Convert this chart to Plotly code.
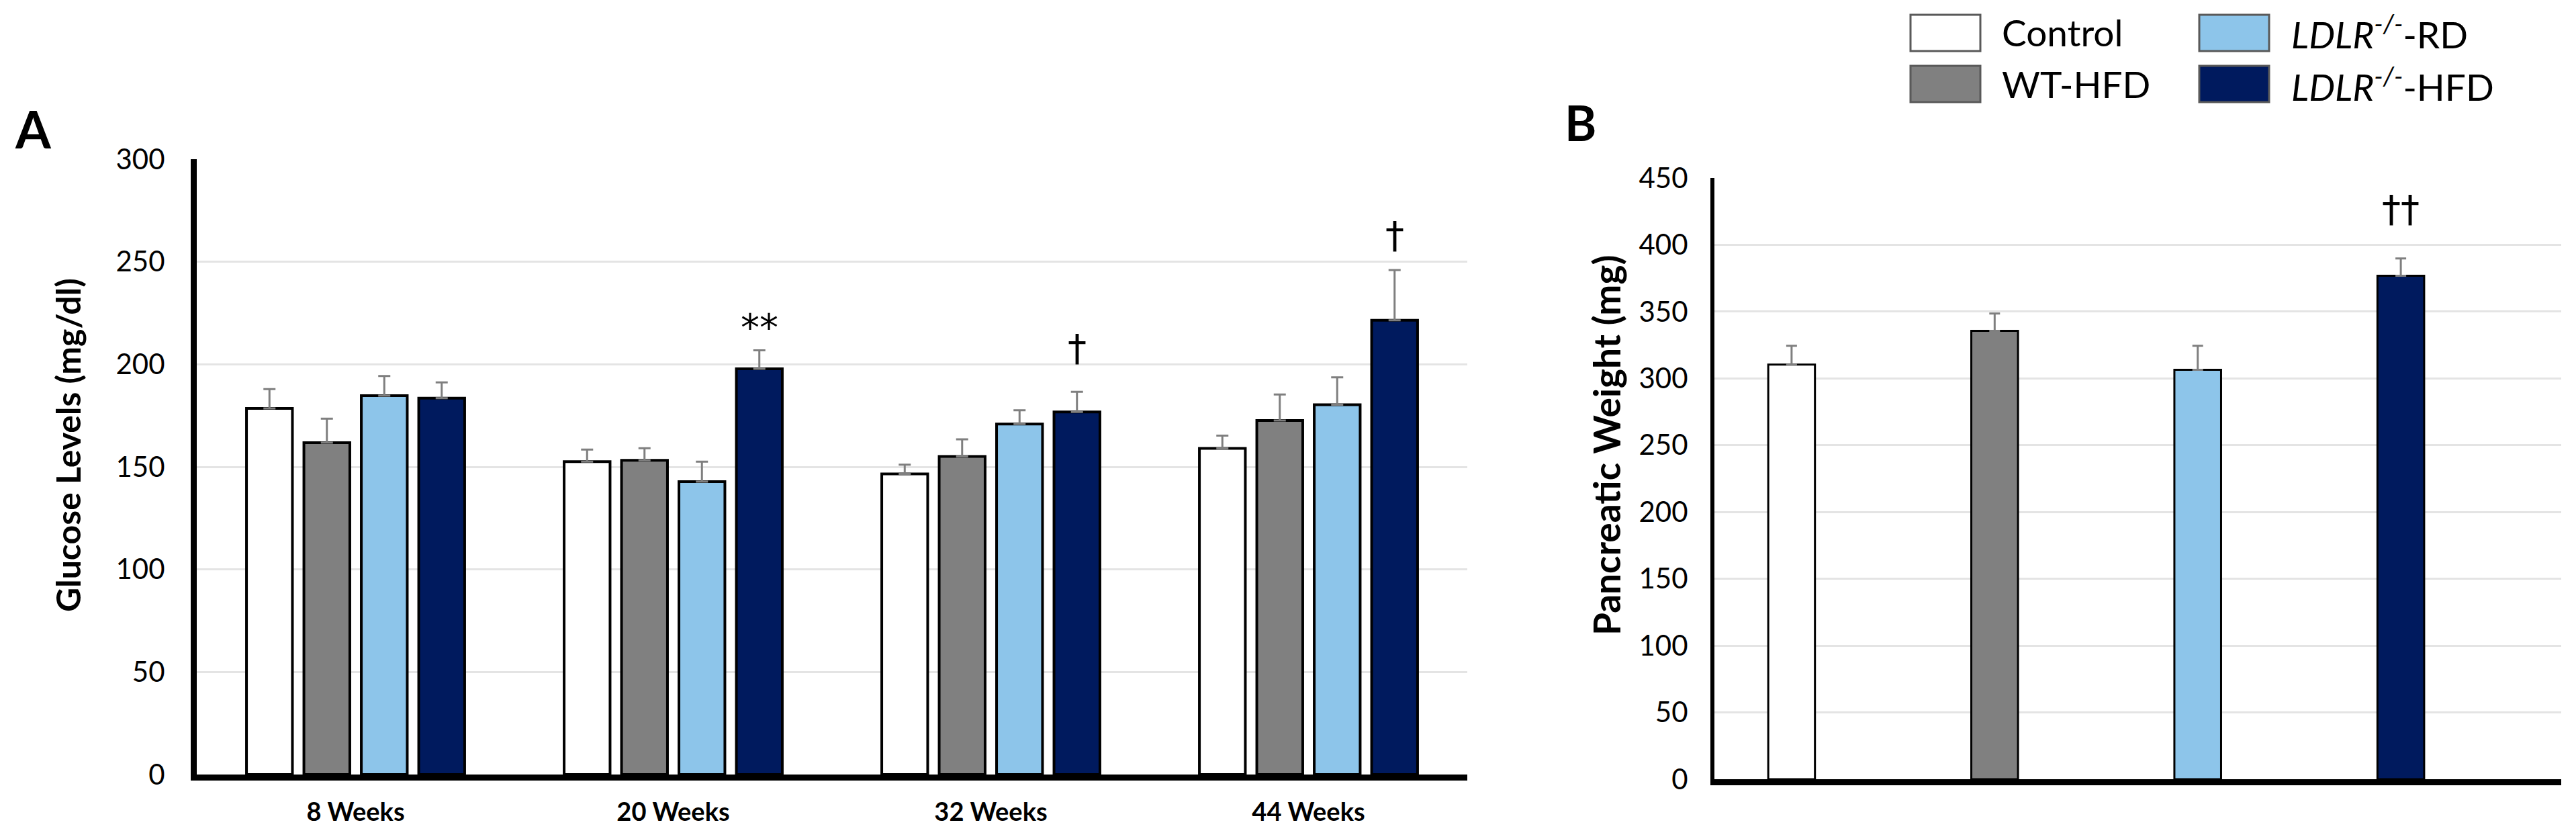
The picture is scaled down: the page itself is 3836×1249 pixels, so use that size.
import plotly.graph_objects as go
from plotly.subplots import make_subplots

# ---------------- data ----------------
weeks = ["8 Weeks", "20 Weeks", "32 Weeks", "44 Weeks"]
groups = ["Control", "WT-HFD", "LDLR-RD", "LDLR-HFD"]
group_labels = ["Control", "WT-HFD", "<i>LDLR<sup>-/-</sup></i>-RD", "<i>LDLR<sup>-/-</sup></i>-HFD"]

glucose_control = [178.5, 152.5, 146.6, 159.0]
glucose_wt_hfd = [161.8, 153.2, 155.1, 172.6]
glucose_ldlr_rd = [184.7, 142.8, 170.9, 180.3]
glucose_ldlr_hfd = [183.5, 197.8, 176.8, 221.5]

glucose_err_control = [9.4, 5.9, 4.5, 6.2]
glucose_err_wt_hfd = [11.7, 5.9, 8.3, 12.7]
glucose_err_ldlr_rd = [9.6, 9.7, 6.7, 13.3]
glucose_err_ldlr_hfd = [7.7, 9.0, 9.8, 24.5]

# significance marks above LDLR-/- HFD bars (week index, label, y position)
glucose_sig_week = [1, 2, 3]
glucose_sig_text = ["**", "†", "†"]
glucose_sig_y = [218, 208, 263]

pancreas_weight = [310.4, 335.6, 306.4, 376.8]
pancreas_err = [14.0, 13.0, 18.0, 13.0]
pancreas_sig_text = "††"
pancreas_sig_y = 427

colors = ["#FFFFFF", "#808080", "#8DC5EA", "#001A5E"]

# ---------------- layout constants ----------------
W, H = 3836, 1249
FONT = "Lato"
BARGAP = 0.277
BARGROUPGAP = 0.2

def px_x(p):
    return p / W

def px_y(p):
    return 1 - p / H

fig = make_subplots(rows=1, cols=2)

glucose_vals = [glucose_control, glucose_wt_hfd, glucose_ldlr_rd, glucose_ldlr_hfd]
glucose_errs = [glucose_err_control, glucose_err_wt_hfd, glucose_err_ldlr_rd, glucose_err_ldlr_hfd]

for name, vals, errs, col in zip(groups, glucose_vals, glucose_errs, colors):
    fig.add_trace(
        go.Bar(
            x=weeks, y=vals, name=name,
            marker=dict(color=col, line=dict(color="#000000", width=4)),
            error_y=dict(type="data", array=errs, arrayminus=[0] * len(errs),
                         symmetric=False, color="#7F7F7F", thickness=3, width=9),
            showlegend=False,
        ),
        row=1, col=1,
    )

fig.add_trace(
    go.Bar(
        x=groups, y=pancreas_weight, width=0.23,
        marker=dict(color=colors, line=dict(color="#000000", width=3)),
        error_y=dict(type="data", array=pancreas_err, arrayminus=[0] * 4,
                     symmetric=False, color="#7F7F7F", thickness=3, width=8),
        showlegend=False,
    ),
    row=1, col=2,
)

fig.update_layout(
    width=W, height=H,
    margin=dict(l=0, r=0, t=0, b=0, autoexpand=False),
    paper_bgcolor="white", plot_bgcolor="white",
    barmode="group", bargap=BARGAP, bargroupgap=BARGROUPGAP,
    font=dict(family=FONT, color="#000000"),
    xaxis=dict(domain=[px_x(293), px_x(2185)], showline=True, linecolor="#000000",
               linewidth=9, ticks="", showgrid=False, automargin=False,
               tickfont=dict(family=FONT, size=38, color="#000000", weight="bold"),
               ticklabelstandoff=14),
    yaxis=dict(domain=[px_y(1153), px_y(237)], range=[0, 300], dtick=50,
               showline=True, linecolor="#000000", linewidth=9, ticks="",
               showgrid=True, gridcolor="#E4E4E4", gridwidth=3, zeroline=False,
               automargin=False,
               tickfont=dict(family=FONT, size=42, color="#000000"),
               ticklabelstandoff=30),
    xaxis2=dict(domain=[px_x(2553), px_x(3814)], range=[-0.38, 3.79],
                showline=True, linecolor="#000000", linewidth=9, ticks="",
                showgrid=False, showticklabels=False, tickvals=[], automargin=False),
    yaxis2=dict(domain=[px_y(1160), px_y(265)], range=[0, 450], dtick=50,
                showline=True, linecolor="#000000", linewidth=6, ticks="",
                showgrid=True, gridcolor="#E4E4E4", gridwidth=3, zeroline=False,
                automargin=False,
                tickfont=dict(family=FONT, size=42, color="#000000"),
                ticklabelstandoff=25),
)

# axis titles (rotated)
fig.add_annotation(x=px_x(101), y=px_y(663), xref="paper", yref="paper",
                   text="<b>Glucose Levels (mg/dl)</b>", textangle=-90, showarrow=False,
                   xanchor="center", yanchor="middle",
                   font=dict(family=FONT, size=50, color="#000000"))
fig.add_annotation(x=px_x(2392), y=px_y(663), xref="paper", yref="paper",
                   text="<b>Pancreatic Weight (mg)</b>", textangle=-90, showarrow=False,
                   xanchor="center", yanchor="middle",
                   font=dict(family=FONT, size=55, color="#000000"))

# significance annotations above the LDLR-/- HFD bar of each group
hfd_offset = 1.5 * (1 - BARGAP) / 4
for wi, txt, yv in zip(glucose_sig_week, glucose_sig_text, glucose_sig_y):
    fig.add_annotation(x=wi + hfd_offset, y=yv, xref="x", yref="y", text=txt,
                       showarrow=False, yanchor="middle",
                       font=dict(family="DejaVu Sans", size=56, color="#000000"))
fig.add_annotation(x=3, y=pancreas_sig_y, xref="x2", yref="y2", text=pancreas_sig_text,
                   showarrow=False, yanchor="middle",
                   font=dict(family="DejaVu Sans", size=56, color="#000000"))

# panel letters
fig.add_annotation(x=px_x(20), y=px_y(192), xref="paper", yref="paper", text="<b>A</b>",
                   showarrow=False, xanchor="left", yanchor="middle",
                   font=dict(family=FONT, size=76, color="#000000"))
fig.add_annotation(x=px_x(2328), y=px_y(182), xref="paper", yref="paper", text="<b>B</b>",
                   showarrow=False, xanchor="left", yanchor="middle",
                   font=dict(family=FONT, size=72, color="#000000"))

# legend (two columns, drawn as boxes + labels)
legend_pos = [  # (box_left, box_top, text_left, row_center)
    (2845, 22, 2979, 48),
    (2845, 98, 2979, 125),
    (3275, 22, 3410, 48),
    (3275, 98, 3410, 125),
]
box_w, box_h = 104, 54
for (bl, bt, tl, yc), col, lab in zip(legend_pos, colors, group_labels):
    fig.add_shape(type="rect", xref="paper", yref="paper",
                  x0=px_x(bl), x1=px_x(bl + box_w), y0=px_y(bt + box_h), y1=px_y(bt),
                  fillcolor=col, line=dict(color="#595959", width=3))
    fig.add_annotation(x=px_x(tl), y=px_y(yc), xref="paper", yref="paper", text=lab,
                       showarrow=False, xanchor="left", yanchor="middle",
                       font=dict(family=FONT, size=55, color="#000000"))

fig.write_html("out.html", config={"displayModeBar": False},
               post_script="document.body.style.margin='0';")
